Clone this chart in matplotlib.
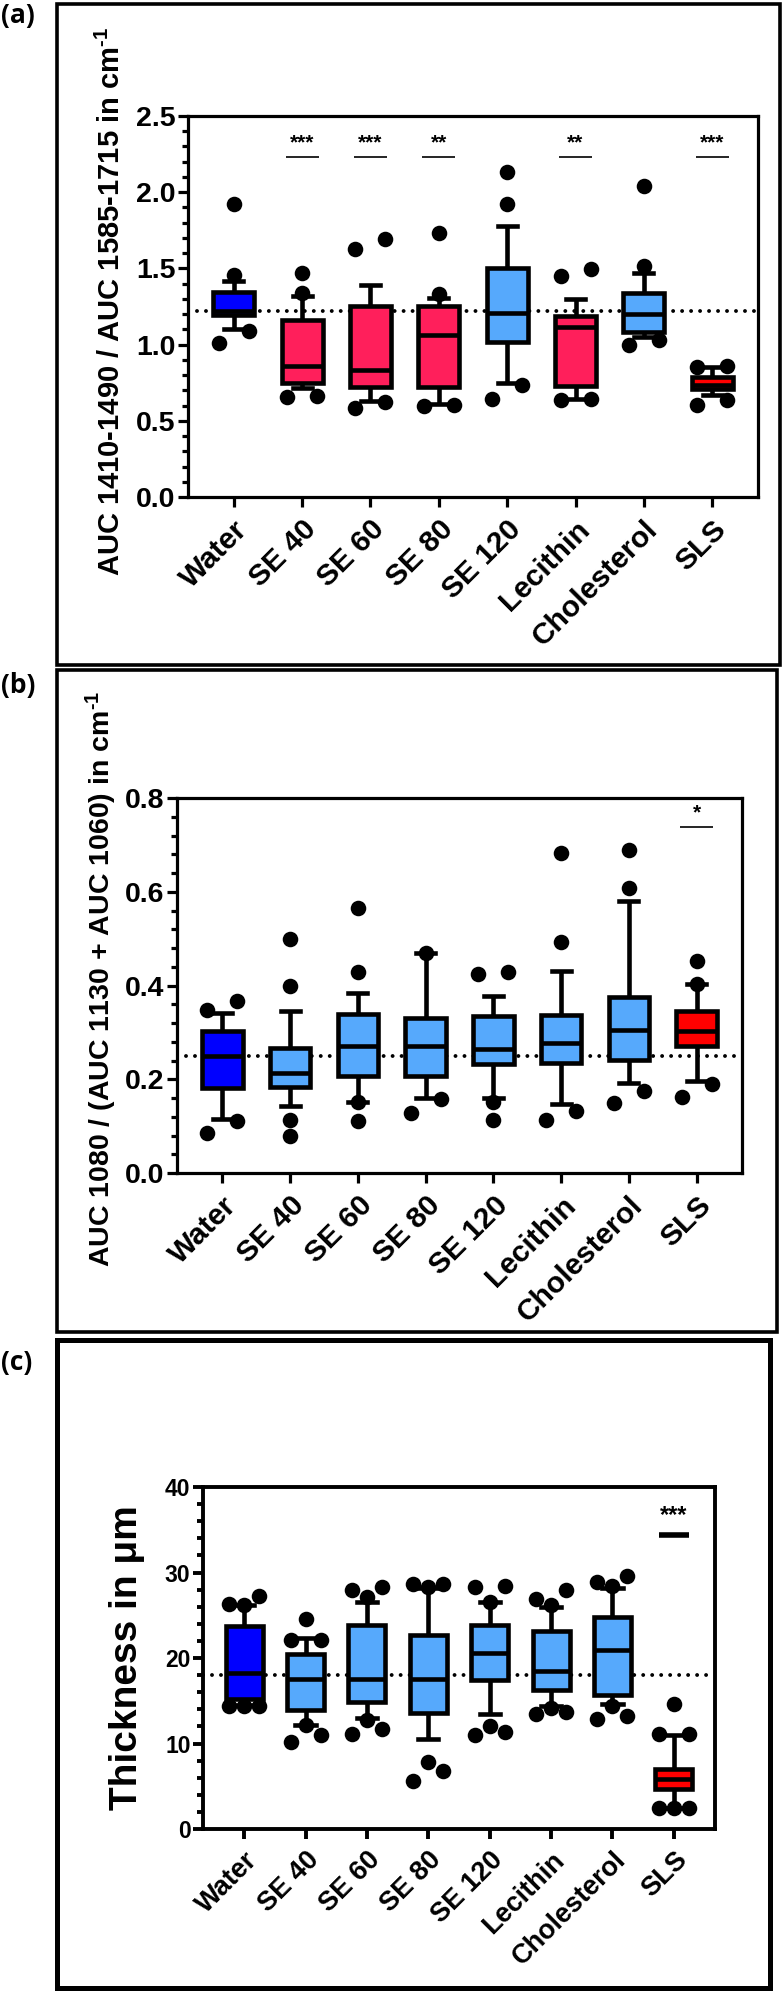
import numpy as np
import matplotlib
matplotlib.use('Agg')
import matplotlib.pyplot as plt
from matplotlib.patches import Rectangle
from matplotlib.ticker import MultipleLocator

plt.rcParams['font.family'] = ['Liberation Sans', 'DejaVu Sans']
plt.rcParams['font.weight'] = 'bold'
plt.rcParams['mathtext.fontset'] = 'custom'
plt.rcParams['mathtext.rm'] = 'Liberation Sans:bold'
plt.rcParams['mathtext.bf'] = 'Liberation Sans:bold'
plt.rcParams['mathtext.it'] = 'Liberation Sans:bold'

groups = ['Water', 'SE 40', 'SE 60', 'SE 80', 'SE 120', 'Lecithin', 'Cholesterol', 'SLS']

# (a) AUC 1410-1490 / AUC 1585-1715
a_med = [1.22, 0.86, 0.833, 1.065, 1.205, 1.118, 1.199, 0.735]
a_q1 = [1.197, 0.746, 0.72, 0.724, 1.019, 0.73, 1.085, 0.711]
a_q3 = [1.348, 1.161, 1.253, 1.25, 1.50, 1.19, 1.336, 0.79]
a_lo = [1.10, 0.713, 0.632, 0.61, 0.746, 0.641, 1.052, 0.669]
a_hi = [1.417, 1.321, 1.391, 1.304, 1.778, 1.30, 1.468, 0.855]
a_out = [[1.92, 1.457, 1.008, 1.089],
         [1.468, 1.336, 0.655, 0.66],
         [1.625, 1.691, 0.582, 0.625],
         [1.73, 1.33, 0.60, 0.602],
         [2.135, 1.92, 0.64, 0.733],
         [1.45, 1.496, 0.636, 0.641],
         [2.043, 1.516, 0.997, 1.03],
         [0.855, 0.86, 0.604, 0.636]]
a_ref = 1.223
a_sig = ['', '***', '***', '**', '', '**', '', '***']
a_sig_y = 2.23

# (b) AUC 1080 / (AUC 1130 + AUC 1060)
b_med = [0.250, 0.214, 0.270, 0.272, 0.265, 0.278, 0.305, 0.303]
b_q1 = [0.181, 0.184, 0.207, 0.207, 0.232, 0.234, 0.241, 0.271]
b_q3 = [0.302, 0.267, 0.339, 0.330, 0.334, 0.338, 0.375, 0.346]
b_lo = [0.115, 0.144, 0.151, 0.161, 0.161, 0.147, 0.191, 0.197]
b_hi = [0.342, 0.346, 0.383, 0.469, 0.378, 0.432, 0.581, 0.403]
b_out = [[0.348, 0.367, 0.085, 0.110],
         [0.499, 0.400, 0.114, 0.079],
         [0.565, 0.428, 0.151, 0.111],
         [0.469, 0.127, 0.157],
         [0.4245, 0.428, 0.152, 0.113],
         [0.682, 0.493, 0.113, 0.133],
         [0.689, 0.607, 0.149, 0.174],
         [0.453, 0.403, 0.163, 0.189]]
b_ref = 0.25
b_sig = ['', '', '', '', '', '', '', '*']
b_sig_y = 0.738

# (c) thickness
c_med = [18.2, 17.6, 17.6, 17.6, 20.56, 18.53, 20.9, 5.9]
c_q1 = [15.22, 13.9, 14.89, 13.61, 17.4, 16.3, 15.7, 4.72]
c_q3 = [23.78, 20.42, 23.87, 22.69, 23.87, 23.17, 24.82, 6.99]
c_lo = [14.5, 12.15, 13.0, 10.49, 13.43, 14.42, 14.6, 2.45]
c_hi = [26.24, 22.3, 26.57, 28.2, 26.57, 25.91, 28.13, 10.96]
c_out = [[26.24, 26.3, 27.2, 14.42, 14.42, 14.42],
         [24.58, 22.13, 22.13, 12.15, 10.96, 10.16],
         [27.18, 27.9, 28.27, 12.76, 11.72, 11.1],
         [28.3, 28.6, 28.7, 7.89, 6.76, 5.67],
         [26.57, 28.27, 28.37, 12.05, 11.34, 10.96],
         [26.24, 26.95, 27.99, 14.18, 13.7, 13.47],
         [28.37, 28.94, 29.55, 14.42, 13.24, 12.86],
         [14.65, 11.1, 11.1, 2.45, 2.45, 2.45]]
c_ref = 18.0
c_sig = ['', '', '', '', '', '', '', '***']
c_sig_y = 34.4

DBLUE = '#0000FF'
LBLUE = '#56A9FC'
PINK = '#FF1F5B'
RED = '#FF0000'
a_colors = [DBLUE, PINK, PINK, PINK, LBLUE, PINK, LBLUE, RED]
b_colors = [DBLUE, LBLUE, LBLUE, LBLUE, LBLUE, LBLUE, LBLUE, RED]
c_colors = [DBLUE, LBLUE, LBLUE, LBLUE, LBLUE, LBLUE, LBLUE, RED]

W, H = 782, 1994
fig = plt.figure(figsize=(W / 100, H / 100), dpi=100)


def fx(px):
    return px / W


def fy(py):
    return 1 - py / H


def make_ax(l, r, t, b):
    return fig.add_axes([fx(l), fy(b), fx(r - l), (b - t) / H])


def flier_dx(vals, med, tol, d):
    # spread outliers that sit close together, like the column scatter
    vals = np.asarray(vals, float)
    dx = np.zeros(len(vals))
    for high in (True, False):
        idx = np.where(vals > med)[0] if high else np.where(vals <= med)[0]
        idx = idx[np.argsort(vals[idx], kind='stable')]
        clusters = []
        for i in idx:
            if clusters and vals[i] - vals[clusters[-1][-1]] < tol:
                clusters[-1].append(i)
            else:
                clusters.append([i])
        for cl in clusters:
            n = len(cl)
            if n == 1:
                pat = [0]
            elif n == 2:
                pat = [-d, d]
            elif n == 3:
                pat = [0, -d, d] if high else [-d, d, 0]
            else:
                pat = list(np.linspace(-d, d, n))
            for i, p in zip(cl, pat):
                dx[i] = p
    return dx


def panel(ax, med, q1, q3, lo, hi, out, colors, ref, sig, sig_y, ylim, major,
          minor, ylabel_fmt, spine_w, ytick_fs, xtick_fs, caps, sig_lw, sig_fs,
          sig_gap):
    stats = [dict(med=m, q1=a, q3=b, whislo=l, whishi=h, fliers=[])
             for m, a, b, l, h in zip(med, q1, q3, lo, hi)]
    pos = np.arange(len(groups))
    ax.axhline(ref, color='black', lw=2.8, ls=(0, (0.01, 2.3)), zorder=1,
               dash_capstyle='round')
    lw = 3.3
    res = ax.bxp(stats, positions=pos, widths=0.6, capwidths=caps,
                 patch_artist=True, showfliers=False, manage_ticks=False,
                 boxprops=dict(linewidth=lw, edgecolor='black'),
                 whiskerprops=dict(linewidth=lw, color='black',
                                   solid_capstyle='butt'),
                 capprops=dict(linewidth=lw, color='black'),
                 medianprops=dict(linewidth=lw, color='black',
                                  solid_capstyle='butt'),
                 zorder=2)
    for patch, col in zip(res['boxes'], colors):
        patch.set_facecolor(col)

    ax.set_xlim(-0.67, len(groups) - 1 + 0.67)
    ax.set_ylim(*ylim)
    fig.canvas.draw()
    bb = ax.get_window_extent()
    px_per_y = bb.height / (ylim[1] - ylim[0])
    px_per_x = bb.width / (len(groups) - 1 + 1.34)
    tol = 15.3 / px_per_y
    d = 15.0 / px_per_x
    for i, vals in enumerate(out):
        dx = flier_dx(vals, med[i], tol, d)
        ax.plot(i + dx, vals, 'o', color='black', ms=11.2, mew=0,
                zorder=4, clip_on=False)

    for i, s in enumerate(sig):
        if s:
            ax.plot([i - 0.24, i + 0.24], [sig_y, sig_y], color='black',
                    lw=sig_lw, solid_capstyle='butt', zorder=3)
            ax.text(i, sig_y + sig_gap, s, ha='center', va='bottom',
                    fontsize=sig_fs, fontweight='bold')

    ax.yaxis.set_major_locator(MultipleLocator(major))
    ax.yaxis.set_minor_locator(MultipleLocator(minor))
    ax.yaxis.set_major_formatter(plt.FuncFormatter(lambda v, p: ylabel_fmt.format(v)))
    ax.set_xticks(pos)
    ax.set_xticklabels(groups, rotation=45, ha='right', rotation_mode='anchor',
                       fontsize=xtick_fs, fontweight='bold')
    for s in ax.spines.values():
        s.set_linewidth(spine_w)
    ax.tick_params(axis='y', which='major', direction='out', length=7,
                   width=spine_w, labelsize=ytick_fs, pad=2)
    ax.tick_params(axis='y', which='minor', direction='out', length=4,
                   width=spine_w)
    ax.tick_params(axis='x', which='major', direction='out', length=7,
                   width=spine_w, pad=6)
    ax.tick_params(axis='x', which='minor', bottom=False)
    for lab in ax.get_yticklabels():
        lab.set_fontweight('bold')


ax_a = make_ax(188, 758, 116, 497)
panel(ax_a, a_med, a_q1, a_q3, a_lo, a_hi, a_out, a_colors, a_ref, a_sig,
      a_sig_y, (0, 2.5), 0.5, 0.1, '{:.1f}', 2.3, 20.5, 21.5, 0.28, 1.2, 15,
      0.03)

ax_b = make_ax(177, 742, 798, 1173)
panel(ax_b, b_med, b_q1, b_q3, b_lo, b_hi, b_out, b_colors, b_ref, b_sig,
      b_sig_y, (0, 0.8), 0.2, 0.04, '{:.1f}', 2.3, 20.5, 21.5, 0.28, 1.2, 15,
      0.01)

ax_c = make_ax(203, 715, 1487, 1829)
panel(ax_c, c_med, c_q1, c_q3, c_lo, c_hi, c_out, c_colors, c_ref, c_sig,
      c_sig_y, (0, 40), 10, 2, '{:.0f}', 2.8, 16.5, 19.5, 0.33, 4.0, 17, 0.9)

# y axis titles
sup = 'cm$^{\u20101}$'
fig.text(fx(111), fy(301), 'AUC 1410-1490 / AUC 1585-1715 in ' + sup,
         rotation=90, ha='center', va='center', fontsize=21, fontweight='bold')
fig.text(fx(101), fy(979), 'AUC 1080 / (AUC 1130 + AUC 1060) in ' + sup,
         rotation=90, ha='center', va='center', fontsize=20.5, fontweight='bold')
fig.text(fx(127), fy(1658), 'Thickness in \u03bcm',
         rotation=90, ha='center', va='center', fontsize=28, fontweight='bold')

# panel frames and letters
for (l, t, r, b, lw) in [(57, 4, 780, 665, 2.6), (57, 670, 777, 1332, 2.6),
                         (57, 1340, 770, 1988, 3.6)]:
    fig.patches.append(Rectangle((fx(l), fy(b)), fx(r - l), (b - t) / H,
                                 transform=fig.transFigure, fill=False,
                                 edgecolor='black', linewidth=lw))
for lab, y in [('(a)', 16), ('(b)', 685), ('(c)', 1362)]:
    fig.text(fx(1), fy(y), lab, ha='left', va='center', fontsize=19,
             fontweight='bold', family=['Open Sans', 'DejaVu Sans'])

fig.savefig('out.png', dpi=100)
